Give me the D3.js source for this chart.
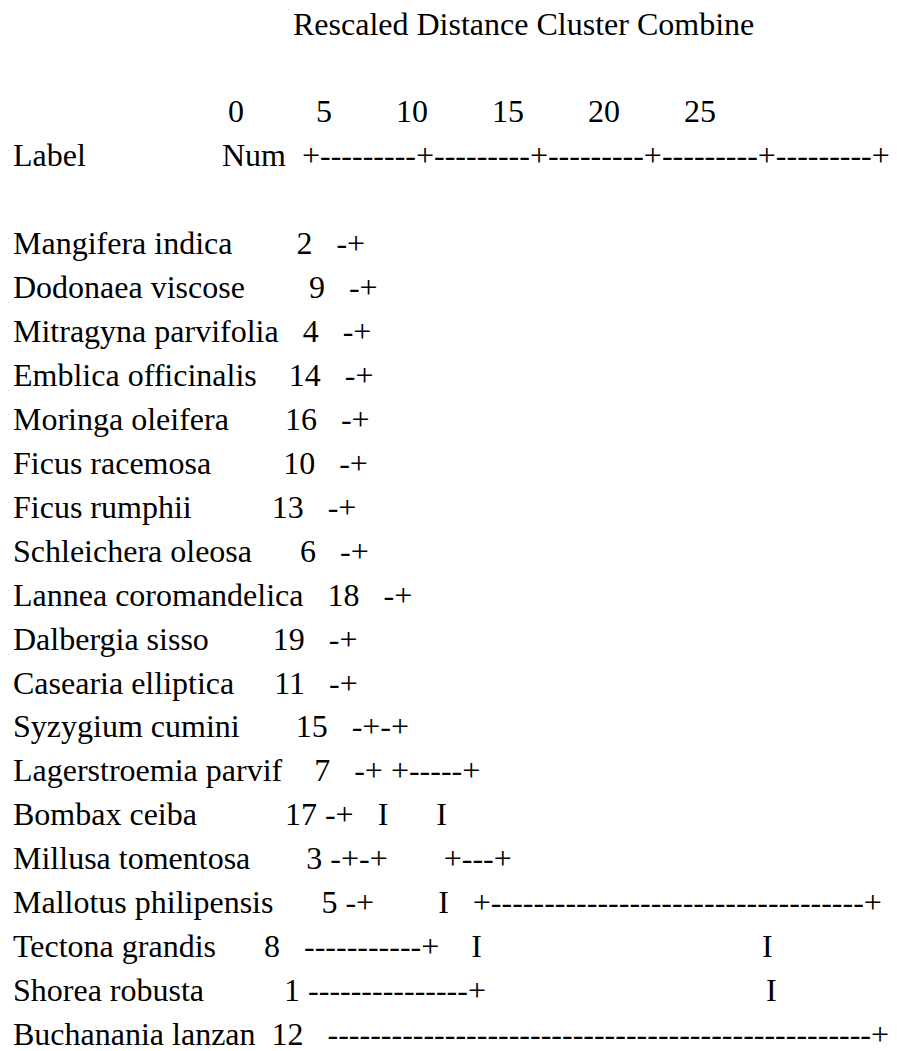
<!DOCTYPE html>
<html><head><meta charset="utf-8">
<script src="https://cdn.jsdelivr.net/npm/d3@7"></script>
<style>html,body{margin:0;padding:0;background:#fff;}svg text{white-space:pre;}</style>
</head><body>
<script>
const title = "Rescaled Distance Cluster Combine";
const tickLabels = ["0","5","10","15","20","25"];
const tickGaps = [9,8,8,8,8];
const headerLabel = "Label";
const headerNum = "Num";
const ruler = "+---------+---------+---------+---------+---------+";
const labels = ["Mangifera indica","Dodonaea viscose","Mitragyna parvifolia","Emblica officinalis","Moringa oleifera","Ficus racemosa","Ficus rumphii","Schleichera oleosa","Lannea coromandelica","Dalbergia sisso","Casearia elliptica","Syzygium cumini","Lagerstroemia parvif","Bombax ceiba","Millusa tomentosa","Mallotus philipensis","Tectona grandis","Shorea robusta","Buchanania lanzan"];
const nums = [2,9,4,14,16,10,13,6,18,19,11,15,7,17,3,5,8,1,12];
const gapLabelNum = [8,8,3,4,7,9,10,6,3,8,5,7,4,11,7,6,6,10,2];
const gapNumTree = [3,3,3,3,3,3,3,3,3,3,3,3,3,1,1,1,3,1,3];
const trees = ["-+","-+","-+","-+","-+","-+","-+","-+","-+","-+","-+","-+-+","-+ +-----+","-+   I      I","-+-+       +---+",
 "-+        I   +" + "-".repeat(35) + "+",
 "-".repeat(11) + "+    I" + " ".repeat(35) + "I",
 "-".repeat(15) + "+" + " ".repeat(35) + "I",
 "-".repeat(51) + "+"];

const W = 897, H = 1051;
const svg = d3.select("body").append("svg").attr("width", W).attr("height", H)
  .style("font-family", "'Liberation Serif','Times New Roman',serif").style("font-size", "32px");
const y = d3.scaleLinear().domain([0, 23]).range([34.5, 1045]);
const sp = n => " ".repeat(n);
const left = 13;

svg.append("text").attr("x", 293).attr("y", y(0)).text(title);
const tickLine = tickLabels.map((t, i) => i === 0 ? t : sp(tickGaps[i-1]) + t).join("");
svg.append("text").attr("x", 228).attr("y", y(2)).text(tickLine);
svg.append("text").attr("x", left).attr("y", y(3)).text(headerLabel);
svg.append("text").attr("x", 222).attr("y", y(3)).text(headerNum + "  " + ruler);

svg.selectAll("text.row").data(labels).join("text").attr("class", "row")
  .attr("x", left).attr("y", (d, i) => y(i + 5))
  .text((d, i) => d + sp(gapLabelNum[i]) + nums[i] + sp(gapNumTree[i]) + trees[i]);
</script>
</body></html>
